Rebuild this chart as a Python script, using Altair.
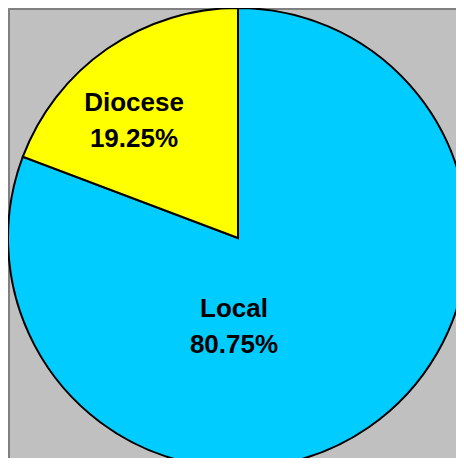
import altair as alt
import pandas as pd

categories = ["Local", "Diocese"]
values = [80.75, 19.25]
labels = ["Local\n80.75%", "Diocese\n19.25%"]
colors = ["#00CCFF", "#FFFF00"]
# label anchor positions (in chart units across the plot area)
label_x = [226, 126]
label_y = [301, 95]

df = pd.DataFrame({
    "category": categories,
    "value": values,
    "order": [0, 1],
    "label": [l.split("\n") for l in labels],
    "lx": label_x,
    "ly": label_y,
})

W = 448
H = 450

pie = alt.Chart(df).mark_arc(
    outerRadius=230, stroke="black", strokeWidth=2, clip=True
).encode(
    theta=alt.Theta("value:Q", stack=True),
    order=alt.Order("order:Q"),
    color=alt.Color("category:N", scale=alt.Scale(domain=categories, range=colors), legend=None),
    x=alt.value(230),
    y=alt.value(230),
)

axis_style = dict(labels=False, ticks=False, grid=False, title=None,
                  domainColor="#808080", domainWidth=3)

text = alt.Chart(df).mark_text(
    font="Liberation Sans", fontWeight="bold", fontSize=26, lineHeight=36,
    color="black", align="center", baseline="middle"
).encode(
    x=alt.X("lx:Q", scale=alt.Scale(domain=[0, W], range=[0, W]),
            axis=alt.Axis(orient="top", **axis_style)),
    y=alt.Y("ly:Q", scale=alt.Scale(domain=[0, H], range=[0, H]),
            axis=alt.Axis(orient="left", **axis_style)),
    text="label",
)

chart = alt.layer(pie, text).properties(
    width=W, height=H, background="#C0C0C0", padding=0,
    autosize=alt.AutoSizeParams(type="none")
).configure_view(strokeWidth=0)

chart.save("out.html", embed_options={"renderer": "svg", "actions": False})
